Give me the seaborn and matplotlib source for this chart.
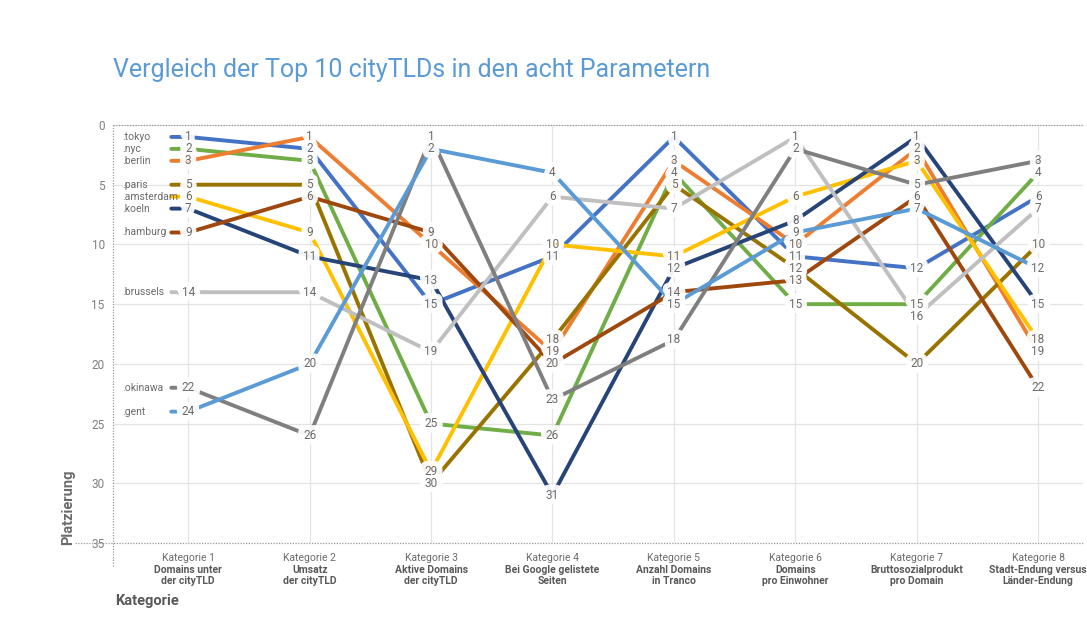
import pandas as pd
import seaborn as sns
import matplotlib.pyplot as plt
import matplotlib.patheffects as pe

# city TLDs and their ranks in the eight categories
tlds = ['.tokyo', '.nyc', '.berlin', '.paris', '.amsterdam', '.koeln',
        '.hamburg', '.brussels', '.okinawa', '.gent']
colors = ['#4472C4', '#70AD47', '#ED7D31', '#997300', '#FFC000', '#264478',
          '#9E480E', '#BFBFBF', '#7F7F7F', '#5B9BD5']

tokyo = [1, 2, 15, 11, 1, 11, 12, 6]
nyc = [2, 3, 25, 26, 4, 15, 15, 4]
berlin = [3, 1, 10, 19, 3, 10, 2, 19]
paris = [5, 5, 30, 18, 5, 12, 20, 10]
amsterdam = [6, 9, 29, 10, 11, 6, 3, 18]
koeln = [7, 11, 13, 31, 12, 8, 1, 15]
hamburg = [9, 6, 9, 20, 14, 13, 6, 22]
brussels = [14, 14, 19, 6, 7, 1, 16, 7]
okinawa = [22, 26, 1, 23, 18, 2, 5, 3]
gent = [24, 20, 2, 4, 15, 9, 7, 12]
ranks = [tokyo, nyc, berlin, paris, amsterdam, koeln, hamburg, brussels, okinawa, gent]

cat_names = ['Kategorie 1', 'Kategorie 2', 'Kategorie 3', 'Kategorie 4',
             'Kategorie 5', 'Kategorie 6', 'Kategorie 7', 'Kategorie 8']
cat_desc = ['Domains unter\nder cityTLD', 'Umsatz\nder cityTLD', 'Aktive Domains\nder cityTLD',
            'Bei Google gelistete\nSeiten', 'Anzahl Domains\nin Tranco', 'Domains\npro Einwohner',
            'Bruttosozialprodukt\npro Domain', 'Stadt-Endung versus\nLänder-Endung']

sns.set_theme(style='white')
plt.rcParams['font.family'] = ['Liberation Sans Narrow', 'Roboto', 'DejaVu Sans']

rows = []
for tld, r in zip(tlds, ranks):
    # short lead-in dash left of category 1
    rows.append({'tld': tld, 'pos': -0.14, 'rank': r[0]})
    for i, v in enumerate(r):
        rows.append({'tld': tld, 'pos': i, 'rank': v})
df = pd.DataFrame(rows)

fig = plt.figure(figsize=(10.87, 6.18), dpi=100)
ax = fig.add_axes([113 / 1087, 1 - 543 / 618, 970 / 1087, 418 / 618])

gray = '#7F7F7F'
sns.lineplot(data=df, x='pos', y='rank', hue='tld', palette=dict(zip(tlds, colors)),
             linewidth=2.8, legend=False, sort=False, ax=ax, zorder=2)

# data labels: white halos first, then the numbers on top of all halos
halo = [pe.withStroke(linewidth=8, foreground=(1, 1, 1, 0.93))]
for tld, r in zip(tlds, ranks):
    for i, v in enumerate(r):
        ax.text(i, v, str(v), ha='center', va='center', fontsize=8.5, color='white',
                zorder=4, path_effects=halo)
for tld, r in zip(tlds, ranks):
    for i, v in enumerate(r):
        ax.text(i, v, str(v), ha='center', va='center', fontsize=8.5, color='#6b6b6b', zorder=5)
    ax.text(-0.54, r[0], tld, ha='left', va='center', fontsize=7.5, color='#6b6b6b', zorder=5)

ax.set_xlim(-0.62, 7.37)
ax.set_ylim(35, 0)
ax.set_yticks(range(0, 36, 5))
ax.set_xticks(range(8))
ax.set_xticklabels([])
ax.tick_params(axis='y', labelsize=8.5, labelcolor=gray, length=0, pad=6)
ax.tick_params(axis='x', length=0)
ax.grid(True, color='#E4E4E4', linewidth=0.9, zorder=0)
ax.set_xlabel('')
ax.set_ylabel('')
for s in ax.spines.values():
    s.set_visible(False)

# dotted frame lines
dot = dict(color='#9A9A9A', linestyle=(0, (1, 1.2)), linewidth=0.9, clip_on=False, zorder=1)
ax.plot([0, 1], [1, 1], transform=ax.transAxes, **dot)
ax.plot([0, 0], [-0.055, 1], transform=ax.transAxes, **dot)
ax.plot([-38 / 970, 1], [0, 0], transform=ax.transAxes, **dot)

# category labels
trans = ax.get_xaxis_transform()
for i, (name, desc) in enumerate(zip(cat_names, cat_desc)):
    ax.annotate(name, (i, 0), xycoords=trans, xytext=(0, -7), textcoords='offset points',
                ha='center', va='top', fontsize=7.5, color='#6b6b6b')
    ax.annotate(desc, (i, 0), xycoords=trans, xytext=(0, -16), textcoords='offset points',
                ha='center', va='top', fontsize=7.5, color='#595959', fontweight='bold',
                linespacing=1.1)

fig.text(113 / 1087, 1 - 70 / 618, 'Vergleich der Top 10 cityTLDs in den acht Parametern',
         fontsize=18, color='#5B9BD5', va='center', ha='left')
fig.text(68 / 1087, 1 - 545 / 618, 'Platzierung', rotation=90, fontsize=10.5,
         color='#6b6b6b', fontweight='bold', ha='center', va='bottom')
fig.text(115 / 1087, 1 - 601 / 618, 'Kategorie', fontsize=10.5, color='#595959',
         fontweight='bold', ha='left', va='center')

fig.savefig('out.png', dpi=100)
